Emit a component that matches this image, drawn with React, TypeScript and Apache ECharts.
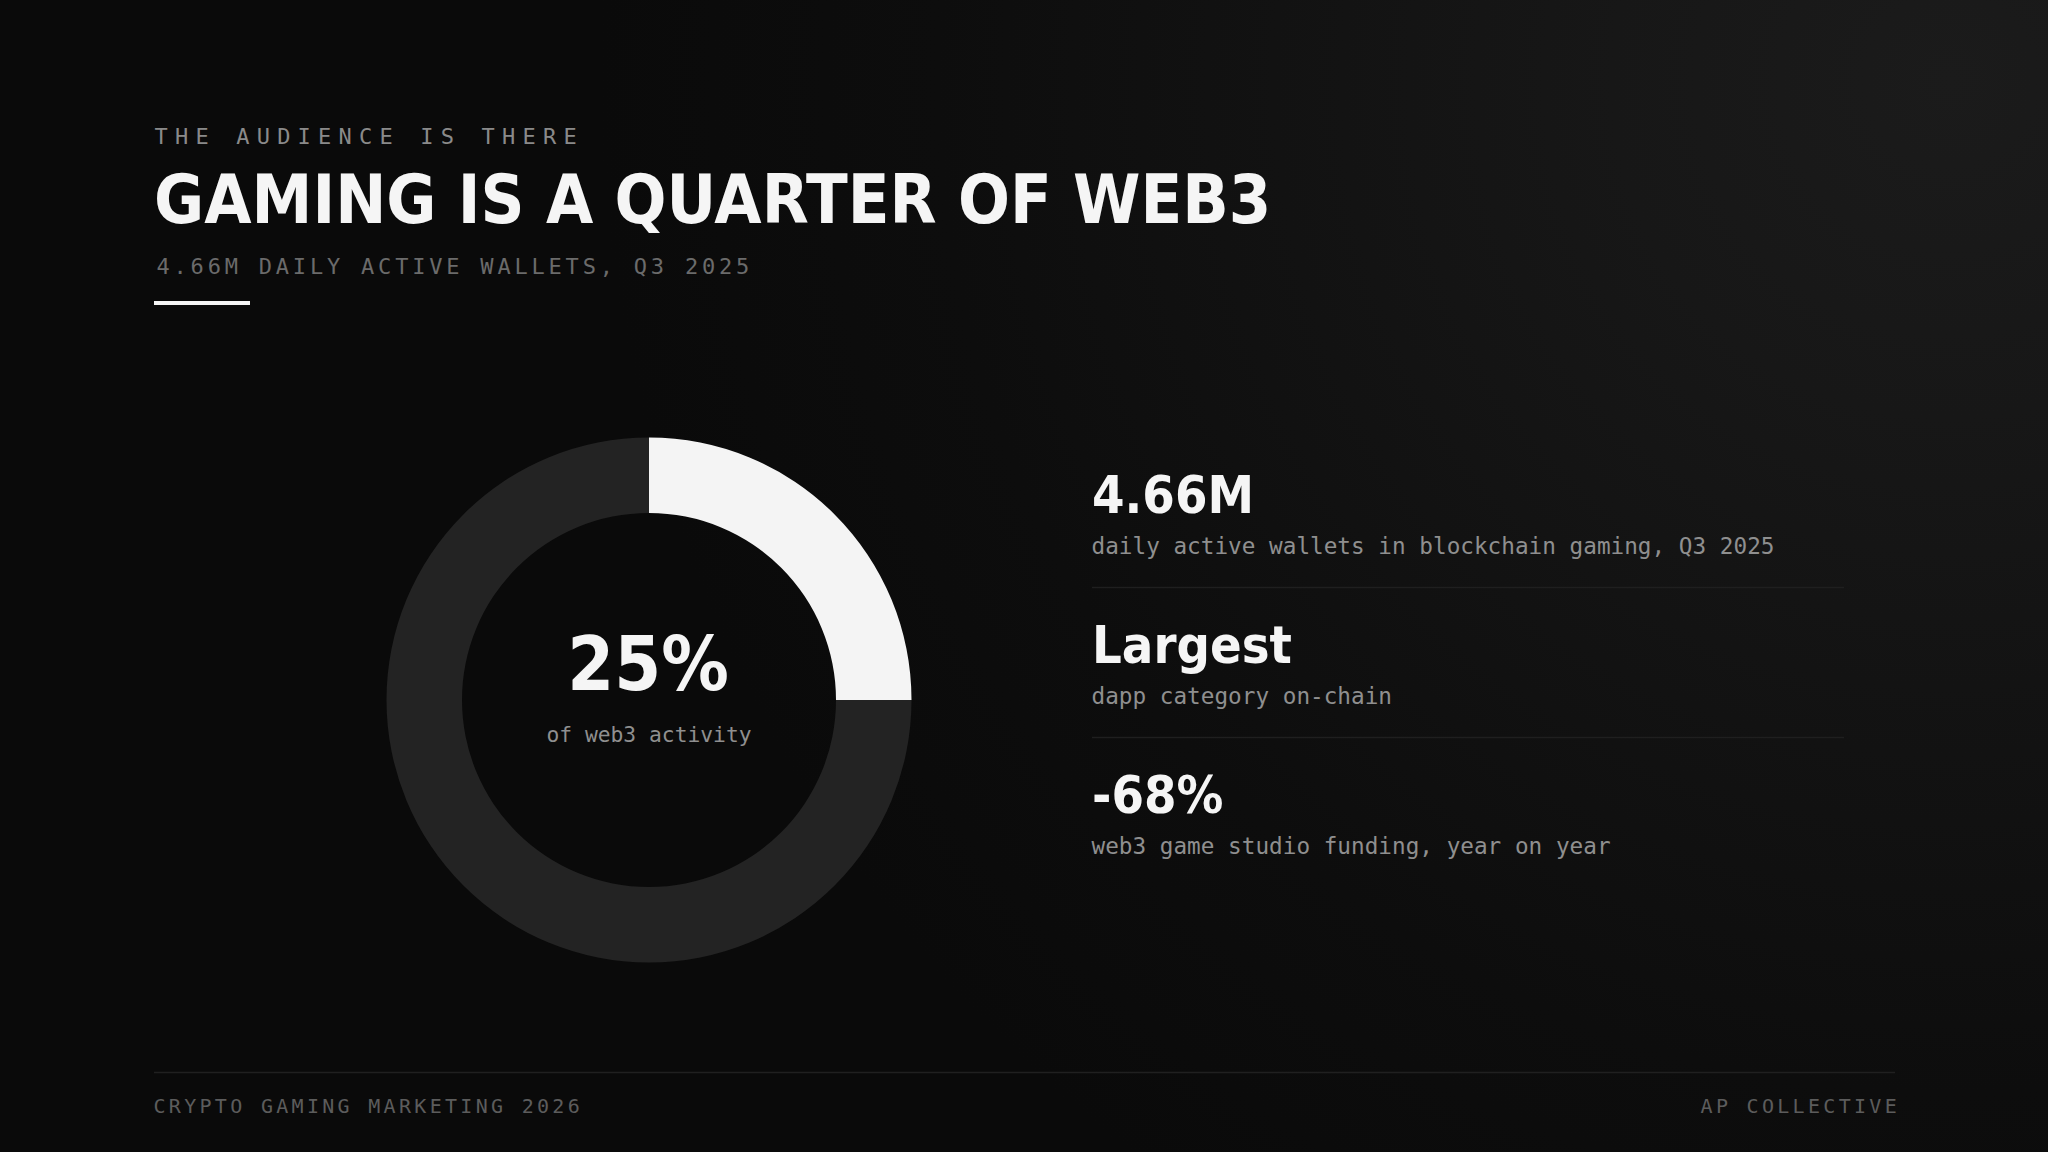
import React, { useEffect, useRef } from "react";
import * as echarts from "echarts";

// ---- data ----
const donutCategories = ["Gaming", "Rest of web3"];
const donutValues = [25, 75];
const donutColors = ["#f4f4f4", "#232323"];
const centerCaption = "of web3 activity";

const eyebrow = "THE AUDIENCE IS THERE";
const title = "GAMING IS A QUARTER OF WEB3";
const subtitle = "4.66M DAILY ACTIVE WALLETS, Q3 2025";
const statValues = ["4.66M", "Largest", "-68%"];
const statLabels = [
  "daily active wallets in blockchain gaming, Q3 2025",
  "dapp category on-chain",
  "web3 game studio funding, year on year",
];
const footerLeft = "CRYPTO GAMING MARKETING 2026";
const footerRight = "AP COLLECTIVE";

const MONO = "'DejaVu Sans Mono', monospace";
const SANS = "'DejaVu Sans', sans-serif";

type TOpts = { weight?: string; family?: string; align?: string; scaleX?: number };
const txt = (text: string, x: number, y: number, size: number, color: string, o: TOpts = {}) => ({
  type: "text",
  x,
  y,
  z: 10,
  silent: true,
  scaleX: o.scaleX ?? 1,
  style: {
    text,
    x: 0,
    y: 0,
    fill: color,
    font: `${o.weight || "normal"} ${size}px ${o.family || MONO}`,
    align: o.align || "left",
    textAlign: o.align || "left",
    verticalAlign: "middle",
    textVerticalAlign: "middle",
  },
});

const spacing: Record<string, number> = {
  [eyebrow]: 7.2,
  [subtitle]: 3.8,
  [footerLeft]: 3.3,
  [footerRight]: 3.3,
};

export default function App() {
  const ref = useRef<HTMLDivElement>(null);
  useEffect(() => {
    const el = ref.current!;
    const chart = echarts.init(el, undefined, { renderer: "svg" });

    const graphics: any[] = [
      {
        type: "rect",
        z: -10,
        silent: true,
        shape: { x: 0, y: 0, width: 2048, height: 1152 },
        style: {
          fill: new echarts.graphic.RadialGradient(
            1950,
            80,
            1350,
            [
              { offset: 0, color: "#1b1b1b" },
              { offset: 0.25, color: "#171717" },
              { offset: 0.5, color: "#121212" },
              { offset: 0.75, color: "#0d0d0d" },
              { offset: 1, color: "#0a0a0a" },
            ],
            true
          ),
        },
      },
      txt(eyebrow, 154.5, 136.3, 22, "#8a8a8a"),
      txt(title, 154, 199.5, 67, "#f5f5f5", { weight: "bold", family: SANS, scaleX: 0.913 }),
      txt(subtitle, 156.5, 266.3, 22, "#6b6b6b"),
      {
        type: "rect",
        silent: true,
        z: 10,
        shape: { x: 154, y: 301, width: 96, height: 4 },
        style: { fill: "#f5f5f5" },
      },
      txt(`${donutValues[0]}%`, 648, 664, 75, "#f5f5f5", {
        weight: "bold",
        family: SANS,
        align: "center",
        scaleX: 0.9,
      }),
      txt(centerCaption, 649, 734, 21.3, "#8f8f8f", { align: "center" }),
      {
        type: "line",
        silent: true,
        z: 5,
        shape: { x1: 154, y1: 1072.5, x2: 1895, y2: 1072.5 },
        style: { stroke: "#202020", lineWidth: 1.5 },
      },
      txt(footerLeft, 153.5, 1106.3, 20, "#5c5c5c"),
      txt(footerRight, 1900, 1106.3, 20, "#5c5c5c", { align: "right" }),
    ];

    statValues.forEach((v, i) => {
      graphics.push(
        txt(v, 1092, 495.2 + i * 150, 52, "#f5f5f5", { weight: "bold", family: SANS, scaleX: 0.9 })
      );
      graphics.push(txt(statLabels[i], 1091.5, 546.1 + i * 150, 22.7, "#8f8f8f"));
      if (i < statValues.length - 1) {
        graphics.push({
          type: "line",
          silent: true,
          z: 5,
          shape: { x1: 1092, y1: 587.5 + i * 150, x2: 1844, y2: 587.5 + i * 150 },
          style: { stroke: "#1f1f1f", lineWidth: 1.5 },
        });
      }
    });

    chart.setOption({
      animation: false,
      backgroundColor: "#0a0a0a",
      graphic: { elements: graphics },
      series: [
        {
          type: "pie",
          z: 3,
          center: [649, 700],
          radius: [187, 262.5],
          startAngle: 90,
          clockwise: true,
          silent: true,
          avoidLabelOverlap: false,
          label: { show: false },
          labelLine: { show: false },
          emphasis: { disabled: true },
          itemStyle: { borderWidth: 0 },
          data: donutCategories.map((n, i) => ({
            name: n,
            value: donutValues[i],
            itemStyle: { color: donutColors[i] },
          })),
        },
      ],
    });

    const applySpacing = () => {
      el.querySelectorAll("text").forEach((t) => {
        const v = spacing[(t.textContent || "").trim()];
        if (v != null) t.setAttribute("letter-spacing", String(v));
      });
    };
    applySpacing();
    chart.on("finished", applySpacing);
    const raf = requestAnimationFrame(applySpacing);
    const to = setTimeout(applySpacing, 60);

    return () => {
      cancelAnimationFrame(raf);
      clearTimeout(to);
      chart.dispose();
    };
  }, []);

  return (
    <div
      ref={ref}
      style={{ position: "fixed", left: 0, top: 0, width: 2048, height: 1152 }}
    />
  );
}
